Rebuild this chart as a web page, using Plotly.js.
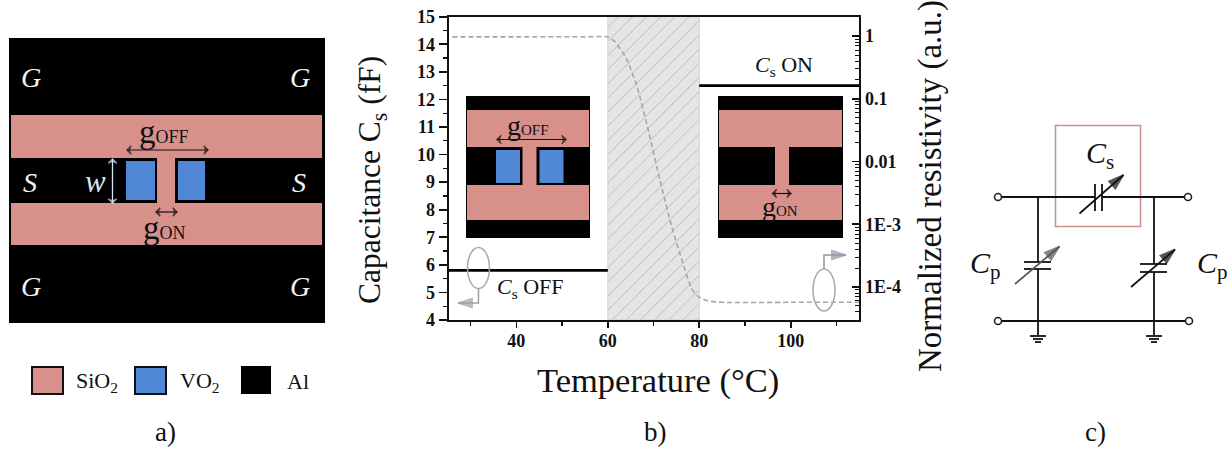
<!DOCTYPE html>
<html><head><meta charset="utf-8">
<script src="https://cdn.plot.ly/plotly-3.0.1.min.js"></script>
<style>html,body{margin:0;padding:0;background:#fff}#c{width:1227px;height:449px}</style>
</head><body><div id="c"></div>
<script>
// ---- chart data (panel b) ----
const offTemps = [25.2, 60];
const offCapacitance = [5.8, 5.8];
const onTemps = [80, 115];
const onCapacitance = [12.5, 12.5];
const transitionCentre = [70];
const transitionWidth = [20];
const transitionBase = [4];
const transitionHeight = [11];
const resTemps = [26, 40, 55, 60, 61.6, 64, 66.4, 69, 71.4, 74, 76.2, 78.3, 79.8, 82, 85, 100, 115];
const resValues = [0.975, 0.975, 0.975, 0.97, 0.81, 0.446, 0.156, 0.0285, 0.00507, 9.1e-4, 2.7e-4, 9.6e-5, 7e-5, 6e-5, 5.7e-5, 5.7e-5, 5.7e-5];
const resTickVals = [1, 0.1, 0.01, 1e-3, 1e-4];
const resTickText = ['1', '0.1', '0.01', '1E-3', '1E-4'];

const PINK = '#d8908b', BLUE = '#5088d6', SERIF = '"Liberation Serif", serif';
const W = 1227, H = 449;
const D = {xref: 'x3', yref: 'y3', layer: 'below'};
const shapes = [], annos = [], arrowTraces = [];
function rect(x0, x1, y0, y1, fill, line, lw) {
  shapes.push({...D, type: 'rect', x0, x1, y0, y1, fillcolor: fill || 'rgba(0,0,0,0)',
    line: {color: line || fill, width: lw === undefined ? 0 : lw}});
}
function oval(cx, cy, rx, ry) {
  shapes.push({...D, type: 'circle', x0: cx - rx, x1: cx + rx, y0: cy - ry, y1: cy + ry,
    line: {color: '#a8a8a8', width: 1.5}});
}
function text(x, y, t, size, color, extra) {
  annos.push({xref: 'x3', yref: 'y3', x, y, text: t, showarrow: false, xanchor: 'center', yanchor: 'middle',
    font: {family: SERIF, size, color: color || '#111'}, ...(extra || {})});
}
function arrow(xs, ys, color, width, size, both, symbol) {
  const n = xs.length;
  const ang = (i, j) => Math.atan2(xs[i] - xs[j], -(ys[i] - ys[j])) * 180 / Math.PI;
  const angles = xs.map(() => 0), sizes = xs.map(() => 0);
  angles[n - 1] = ang(n - 1, n - 2); sizes[n - 1] = size;
  if (both) { angles[0] = ang(0, 1); sizes[0] = size; }
  arrowTraces.push({type: 'scatter', mode: 'lines+markers', x: xs, y: ys, xaxis: 'x3', yaxis: 'y3', cliponaxis: false,
    line: {color, width},
    marker: {symbol: symbol || 'arrow', size: sizes, angle: angles, color, line: {color, width: 1.4}},
    hoverinfo: 'skip', showlegend: false});
}
const gLabel = (sub, big) => '<span style="font-size:' + big + 'px">g</span>' + sub;

// ---- panel a ----
rect(9, 325, 38, 323, '#000');
rect(11, 322, 115, 158, PINK);
rect(11, 322, 203, 245, PINK);
rect(157, 175, 158, 203, PINK);
rect(126, 155, 161, 200, BLUE);
rect(178, 205, 161, 200, BLUE);
[[31, 77, 'G'], [300, 77, 'G'], [31, 286, 'G'], [300, 286, 'G'], [30, 182, 'S'], [299, 182, 'S']]
  .forEach(p => text(p[0], p[1], '<i>' + p[2] + '</i>', 28, '#f2f2f2'));
text(95, 181, '<i>w</i>', 31, '#d6e4f2');
text(164, 132, gLabel('OFF', 33), 18);
text(164, 228, gLabel('ON', 33), 18);
arrow([127, 208], [150, 150], '#111', 1.2, 6, true, 'arrow-wide-open');
arrow([156, 177], [212, 212], '#111', 1.2, 6, true, 'arrow-wide-open');
arrow([112.5, 112.5], [159, 203], '#d6e4f2', 1.3, 6, true, 'arrow-wide-open');
rect(32, 63, 367, 394, PINK, '#111', 2);
rect(135, 166, 367, 394, BLUE, '#111', 2);
rect(241, 271, 366, 394, '#000');
text(97, 382, 'SiO<sub>2</sub>', 22);
text(199, 382, 'VO<sub>2</sub>', 22);
text(298, 381, 'Al', 22);
text(165, 432, 'a)', 27);

// ---- panel b insets ----
rect(466, 590, 96, 238, '#000');
rect(467, 589, 110, 147, PINK);
rect(467, 589, 185, 220, PINK);
rect(522.5, 536.5, 147, 185, PINK);
rect(496, 520, 150, 183, BLUE);
rect(539.5, 563.5, 150, 183, BLUE);
text(528, 125, gLabel('OFF', 28), 15);
arrow([497, 566], [139.5, 139.5], '#111', 1.2, 6, true, 'arrow-wide-open');

rect(718, 843, 96, 238, '#000');
rect(719, 842, 110, 147, PINK);
rect(719, 842, 185, 220, PINK);
rect(775, 789, 147, 185, PINK);
text(780, 206, gLabel('ON', 28), 15);
arrow([772.5, 791], [193.5, 193.5], '#111', 1.2, 6, true, 'arrow-wide-open');

oval(478.5, 268, 11, 20.5);
oval(824, 290, 11, 21);
arrow([478.5, 478.5, 458], [288.5, 303, 303], '#a0a0a0', 1.5, 15);
arrow([824, 824, 846], [269, 255, 255], '#8f98a6', 1.5, 15);
text(530, 288, '<i>C</i><sub>s</sub> OFF', 22, '#111');
text(784, 66, '<i>C</i><sub>s</sub> ON', 22, '#111');
text(655, 432, 'b)', 27);

// ---- panel c ----
rect(1055.5, 1140.5, 125.5, 226.5, null, '#c98f8f', 1.5);
arrow([1079.5, 1123.5], [213.5, 175], '#111', 1.7, 16);
arrow([1015, 1059.5], [284, 246.5], '#555', 1.7, 16);
arrow([1131, 1175], [287, 249.5], '#111', 1.7, 16);
text(1100, 155, '<i>C</i><sub>s</sub>', 30);
text(985, 265, '<i>C</i><sub>p</sub>', 30);
text(1212, 265, '<i>C</i><sub>p</sub>', 30);
text(1095, 432, 'c)', 27);

// axis titles sit off-centre in the reference, so they are placed on the page scale
text(372, 180, 'Capacitance C<sub>s</sub> (fF)', 31.5, '#111', {textangle: -90});
text(930, 186, 'Normalized resistivity (a.u.)', 33, '#111', {textangle: -90});
text(657.5, 380, 'Temperature (°C)', 34.5, '#111');

const wireX = [998, 1095, null, 1102, 1188, null, 1038, 1038, null, 1038, 1038, null, 1154, 1154, null, 1154, 1154, null, 998, 1189, null,
  1095, 1095, null, 1102, 1102, null, 1024, 1051, null, 1024, 1051, null, 1140, 1167, null, 1140, 1167, null,
  1030, 1046, null, 1033, 1043, null, 1035, 1041, null, 1146, 1162, null, 1149, 1159, null, 1151, 1157];
const wireY = [197, 197, null, 197, 197, null, 197, 262, null, 269, 335, null, 197, 264, null, 272, 335, null, 321, 321, null,
  184, 211, null, 184, 211, null, 262, 262, null, 269, 269, null, 264, 264, null, 272, 272, null,
  336, 336, null, 339, 339, null, 342, 342, null, 336, 336, null, 339, 339, null, 342, 342];
const termX = [998, 1188, 998, 1189];
const termY = [197, 197, 321, 321];

const data = [
  {type: 'bar', x: transitionCentre, y: transitionHeight, base: transitionBase, width: transitionWidth, xaxis: 'x', yaxis: 'y',
   marker: {color: '#e5e5e5', line: {color: '#d2d2d2', width: 1},
            pattern: {shape: '/', bgcolor: '#e5e5e5', fgcolor: '#b4b4b4', size: 10, solidity: 0.09}},
   hoverinfo: 'skip', showlegend: false},
  {type: 'scatter', mode: 'lines', x: offTemps, y: offCapacitance, xaxis: 'x', yaxis: 'y',
   line: {color: '#000', width: 2.6}, hoverinfo: 'skip', showlegend: false},
  {type: 'scatter', mode: 'lines', x: onTemps, y: onCapacitance, xaxis: 'x', yaxis: 'y',
   line: {color: '#000', width: 2.6}, hoverinfo: 'skip', showlegend: false},
  {type: 'scatter', mode: 'lines', x: resTemps, y: resValues, xaxis: 'x', yaxis: 'y2',
   line: {color: '#a6a6a6', width: 1.6, dash: '5px,3px', shape: 'spline', smoothing: 0.6}, hoverinfo: 'skip', showlegend: false},
  {type: 'scatter', mode: 'lines', x: wireX, y: wireY, xaxis: 'x3', yaxis: 'y3',
   line: {color: '#111', width: 1.8}, hoverinfo: 'skip', showlegend: false},
  {type: 'scatter', mode: 'markers', x: termX, y: termY, xaxis: 'x3', yaxis: 'y3', cliponaxis: false,
   marker: {symbol: 'circle', size: 7, color: '#fff', line: {color: '#222', width: 1.6}}, hoverinfo: 'skip', showlegend: false},
  ...arrowTraces
];

const tickFont = {family: SERIF, size: 18, color: '#111', weight: 700};
const layout = {
  width: W, height: H, margin: {l: 0, r: 0, t: 0, b: 0}, autosize: false,
  paper_bgcolor: '#fff', plot_bgcolor: 'rgba(0,0,0,0)', showlegend: false, bargap: 0,
  xaxis: {domain: [448.7 / W, 859.3 / W], range: [25.2, 115], anchor: 'y', showgrid: false, zeroline: false,
    showline: true, linecolor: '#111', linewidth: 2, mirror: true,
    ticks: 'outside', ticklen: 6, tickwidth: 1.6, tickcolor: '#111', tick0: 0, dtick: 20, tickfont: tickFont, ticklabelstandoff: -3,
    minor: {dtick: 10, ticks: 'outside', ticklen: 4, tickwidth: 1.4, tickcolor: '#111', showgrid: false}},
  yaxis: {domain: [(H - 320) / H, (H - 16.7) / H], range: [4, 15], anchor: 'x', showgrid: false, zeroline: false,
    showline: true, linecolor: '#111', linewidth: 2,
    ticks: 'outside', ticklen: 8, tickwidth: 1.6, tickcolor: '#111', dtick: 1, tickfont: tickFont,
    minor: {dtick: 0.5, ticks: 'outside', ticklen: 4, tickwidth: 1.4, tickcolor: '#111', showgrid: false}},
  yaxis2: {domain: [(H - 320) / H, (H - 16.7) / H], overlaying: 'y', side: 'right', type: 'log', range: [-4.526, 0.31], anchor: 'x',
    showgrid: false, zeroline: false, showline: true, linecolor: '#111', linewidth: 2,
    ticks: 'inside', ticklen: 7, tickwidth: 1.6, tickcolor: '#111', tickmode: 'array', tickvals: resTickVals, ticktext: resTickText,
    tickfont: tickFont,
    minor: {dtick: 'D1', ticks: 'inside', ticklen: 4, tickwidth: 1, tickcolor: '#111', showgrid: false}},
  xaxis3: {domain: [0, 1], range: [0, W], anchor: 'y3', visible: false, fixedrange: true},
  yaxis3: {domain: [0, 1], range: [H, 0], anchor: 'x3', visible: false, fixedrange: true},
  shapes, annotations: annos
};
Plotly.newPlot('c', data, layout, {displayModeBar: false, staticPlot: true});
</script></body></html>
